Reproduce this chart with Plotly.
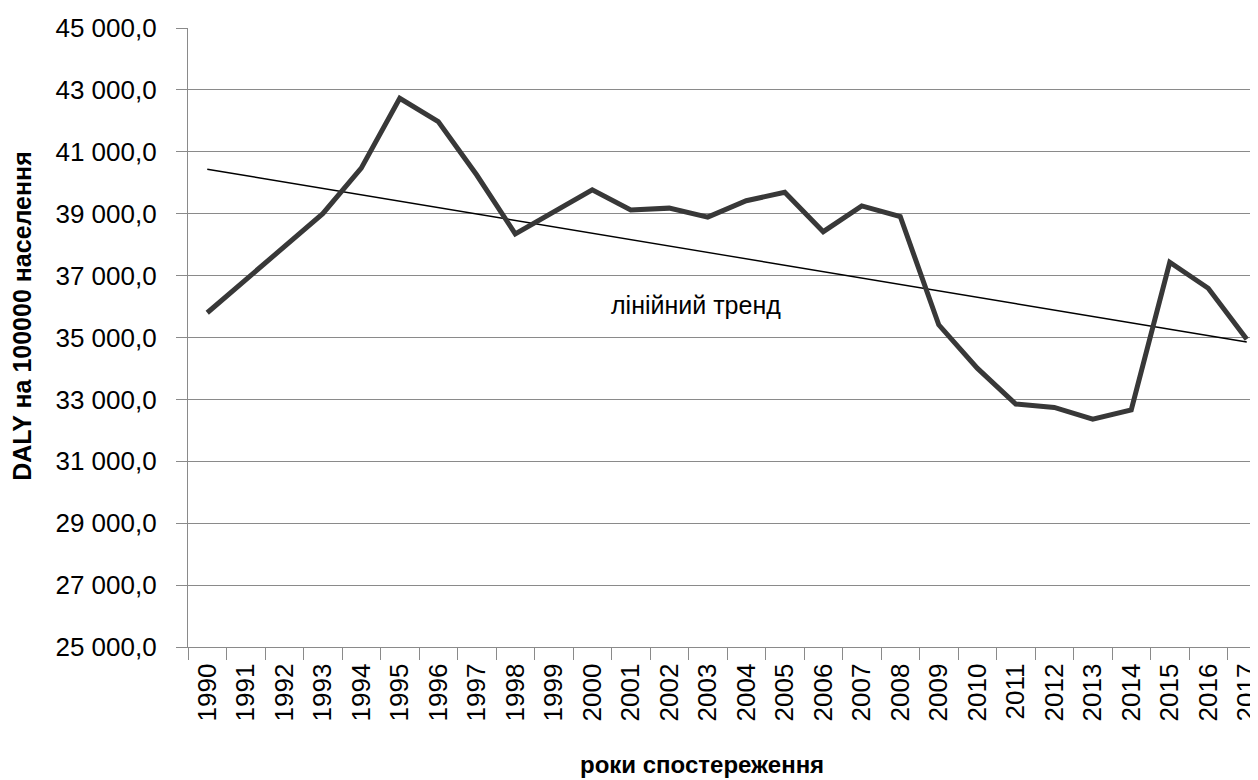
import numpy as np
import plotly.graph_objects as go

years = [str(y) for y in range(1990, 2018)]
daly = [35800, 36870, 37940, 39000, 40470, 42730, 41975, 40250, 38350, 39050,
        39770, 39120, 39180, 38890, 39420, 39690, 38420, 39250, 38910, 35410,
        34010, 32850, 32740, 32360, 32660, 37430, 36590, 34940]
y_ticks = list(range(25000, 45001, 2000))

idx = np.arange(len(daly))
coef = np.polyfit(idx, daly, 1)
trend = np.polyval(coef, idx)

GRID = "#8a8a8a"
FONT = "Liberation Sans"

fig = go.Figure()
fig.add_trace(go.Scatter(x=years, y=trend, mode="lines",
                         line=dict(color="#000000", width=1.4), showlegend=False,
                         hoverinfo="skip"))
fig.add_trace(go.Scatter(x=years, y=daly, mode="lines",
                         line=dict(color="#383838", width=5), showlegend=False))

fig.add_annotation(x=12.69, y=36050, xref="x", yref="y", text="лінійний тренд",
                   showarrow=False, font=dict(family=FONT, size=25, color="#000000"))
fig.add_annotation(x=0.4768, y=-0.1906, xref="paper", yref="paper",
                   text="<b>роки спостереження</b>", showarrow=False,
                   font=dict(family=FONT, size=24, color="#000000"),
                   xanchor="center", yanchor="middle")
fig.add_annotation(x=-0.154, y=0.535, xref="paper", yref="paper",
                   text="<b>DALY на 100000 населення</b>", showarrow=False, textangle=-90,
                   font=dict(family=FONT, size=25, color="#000000"),
                   xanchor="center", yanchor="middle")

fig.update_layout(
    width=1258, height=780,
    margin=dict(l=180, r=0, t=20, b=141, autoexpand=False),
    paper_bgcolor="white", plot_bgcolor="white",
    separators=", ",
    font=dict(family=FONT, color="#000000"),
    xaxis=dict(type="category", range=[-0.5, 27.5], showgrid=False, automargin=False,
               showline=True, linecolor=GRID, linewidth=1.3,
               ticks="outside", ticklen=12, tickcolor=GRID, tickwidth=1.3,
               tickson="boundaries", tickangle=-90, ticklabelstandoff=5,
               tickfont=dict(family=FONT, size=26, color="#000000"),
               zeroline=False),
    yaxis=dict(range=[25000, 45000], tickvals=y_ticks, tickformat=",.1f", automargin=False,
               showgrid=True, gridcolor=GRID, gridwidth=1.3,
               showline=True, linecolor=GRID, linewidth=1.3,
               ticks="outside", ticklen=11, tickcolor=GRID, tickwidth=1.3,
               ticklabelstandoff=14,
               tickfont=dict(family=FONT, size=26, color="#000000"),
               zeroline=False),
)

fig.write_html("out.html")
